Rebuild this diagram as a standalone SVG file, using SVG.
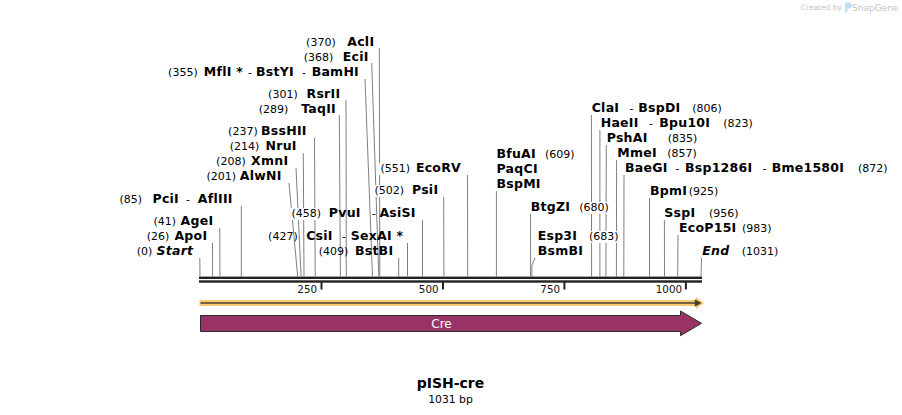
<svg xmlns="http://www.w3.org/2000/svg" width="902" height="415" viewBox="0 0 902 415">
<style>
text{font-family:"DejaVu Sans","Liberation Sans",sans-serif;fill:#000}
.n{font-weight:bold;font-size:12.5px;letter-spacing:0.25px}
.i{font-style:italic}
.num{font-size:11px}
.sep{font-size:11px}
.e{text-anchor:end}
.ln{stroke:#808080;stroke-width:1;fill:none}
.bg{fill:#fff}
.tk{font-size:10.3px;text-anchor:end;fill:#111}
</style>
<rect width="902" height="415" fill="#fff"/>

<!-- credit -->
<g id="credit">
<text x="842" y="10" font-size="7.5" style="fill:#c4c4c4" text-anchor="end">Created by</text>
<path d="M845,2.5 h4 a3,3 0 0 1 0,6 h-1.5 v4 h-2.5 Z" fill="#bfe0f5"/>
<text x="852" y="10.5" font-size="9" style="fill:#c4c4c4">SnapGene</text>
</g>

<!-- connectors -->
<g id="connectors">
<path class="ln" d="M379.3,48 L379.8,276.5"/>
<path class="ln" d="M371.7,63 L378.8,276.5"/>
<path class="ln" d="M365,79 L372.5,276.5"/>
<path class="ln" d="M346,100 L346.3,276.5"/>
<path class="ln" d="M339.3,115 L340.4,276.5"/>
<path class="ln" d="M314.5,138 L315.2,276.5"/>
<path class="ln" d="M303.3,153 L304,276.5"/>
<path class="ln" d="M296,168 L301.1,276.5"/>
<path class="ln" d="M289,183 L297.7,276.5"/>
<path class="ln" d="M241.3,206 L241.3,276.5"/>
<path class="ln" d="M219.8,228 L219.9,276.5"/>
<path class="ln" d="M212.5,243 L212.6,276.5"/>
<path class="ln" d="M199.8,258 L200,276.5"/>
<path class="ln" d="M398.7,258 L398.7,276.5"/>
<path class="ln" d="M407.5,243 L407.5,276.5"/>
<path class="ln" d="M422.5,220 L422.5,276.5"/>
<path class="ln" d="M443.7,197 L443.9,276.5"/>
<path class="ln" d="M467.5,175 L467.7,276.5"/>
<path class="ln" d="M496.4,191 L496.4,276.5"/>
<path class="ln" d="M530.6,214 L530.6,276.5"/>
<path class="ln" d="M535,258 L531.9,265.5 L531.9,276.5"/>
<path class="ln" d="M591.4,115 L591.6,276.5"/>
<path class="ln" d="M599.9,130 L599.9,276.5"/>
<path class="ln" d="M606.3,145 L605.9,276.5"/>
<path class="ln" d="M616.6,160 L616.4,276.5"/>
<path class="ln" d="M624,175 L623.8,276.5"/>
<path class="ln" d="M649.5,198 L649.5,276.5"/>
<path class="ln" d="M664.4,220 L664.5,276.5"/>
<path class="ln" d="M678,235 L677.7,276.5"/>
<path class="ln" d="M701.5,258 L701,276.5"/>
</g>

<!-- left-side enzymes -->
<g id="AclI"><text class="num e" x="335.7" y="46">(370)</text><text class="n e" x="374.3" y="46">AclI</text></g>
<g id="EciI"><text class="num e" x="333.3" y="61">(368)</text><text class="n e" x="368.7" y="61">EciI</text></g>
<g id="BamHI"><text class="num e" x="197.7" y="76">(355)</text><text class="n e" x="243" y="76">MflI *</text><text class="sep e" x="252" y="76">-</text><text class="n e" x="294" y="76">BstYI</text><text class="sep e" x="306" y="76">-</text><text class="n e" x="359" y="76">BamHI</text></g>
<g id="RsrII"><text class="num e" x="297.7" y="98">(301)</text><text class="n e" x="340.3" y="98">RsrII</text></g>
<g id="TaqII"><text class="num e" x="288.3" y="113">(289)</text><text class="n e" x="336" y="113">TaqII</text></g>
<g id="BssHII"><text class="num e" x="257.7" y="135">(237)</text><text class="n e" x="306.7" y="135">BssHII</text></g>
<g id="NruI"><text class="num e" x="259.3" y="150">(214)</text><text class="n e" x="296.7" y="150">NruI</text></g>
<g id="XmnI"><text class="num e" x="245.7" y="165">(208)</text><text class="n e" x="288.3" y="165">XmnI</text></g>
<g id="AlwNI"><text class="num e" x="236" y="180">(201)</text><text class="n e" x="281.7" y="180">AlwNI</text></g>
<g id="PciI"><text class="num e" x="142" y="203">(85)</text><text class="n e" x="179" y="203">PciI</text><text class="sep e" x="190" y="203">-</text><text class="n e" x="232.7" y="203">AflIII</text></g>
<g id="AgeI"><text class="num e" x="176" y="225">(41)</text><text class="n e" x="213.3" y="225">AgeI</text></g>
<g id="ApoI"><text class="num e" x="169.3" y="240">(26)</text><text class="n e" x="207.3" y="240">ApoI</text></g>
<g id="Start"><text class="num e" x="152.3" y="255">(0)</text><text class="n i e" x="193.3" y="255">Start</text></g>

<!-- middle enzymes -->
<g id="EcoRV"><rect class="bg" x="377" y="163" width="33" height="12"/><text class="num e" x="410" y="172">(551)</text><text class="n e" x="461" y="172">EcoRV</text></g>
<g id="PsiI"><rect class="bg" x="373" y="185" width="32" height="12"/><text class="num e" x="404" y="194">(502)</text><text class="n e" x="438.3" y="194">PsiI</text></g>
<g id="PvuI"><rect class="bg" x="290" y="208" width="32" height="12"/><text class="num e" x="321" y="217">(458)</text><text class="n e" x="360.7" y="217">PvuI</text><text class="sep e" x="376" y="217">-</text><text class="n e" x="415.7" y="217">AsiSI</text></g>
<g id="CsiI"><text class="num e" x="297.7" y="240">(427)</text><text class="n e" x="332.7" y="240">CsiI</text><text class="sep e" x="346" y="240">-</text><text class="n e" x="403.3" y="240">SexAI *</text></g>
<g id="BstBI"><text class="num e" x="348.3" y="255">(409)</text><text class="n e" x="393.3" y="255">BstBI</text></g>

<!-- right-side enzymes -->
<g id="BfuAI"><text class="n" x="496.5" y="158">BfuAI</text><text class="num" x="545" y="158">(609)</text><text class="n" x="496.5" y="173">PaqCI</text><text class="n" x="496.5" y="188">BspMI</text></g>
<g id="BtgZI"><text class="n" x="530.7" y="211">BtgZI</text><rect class="bg" x="578" y="202" width="32" height="12"/><text class="num" x="579.3" y="211">(680)</text></g>
<g id="Esp3I"><text class="n" x="537.7" y="240">Esp3I</text><rect class="bg" x="588" y="231" width="32" height="12"/><text class="num" x="589" y="240">(683)</text><text class="n" x="537.7" y="255">BsmBI</text></g>
<g id="ClaI"><text class="n" x="591.7" y="112">ClaI</text><text class="sep" x="629.5" y="112">-</text><text class="n" x="638.3" y="112">BspDI</text><text class="num" x="692.3" y="112">(806)</text></g>
<g id="HaeII"><text class="n" x="600.7" y="127">HaeII</text><text class="sep" x="649" y="127">-</text><text class="n" x="659.3" y="127">Bpu10I</text><text class="num" x="723.3" y="127">(823)</text></g>
<g id="PshAI"><text class="n" x="606.7" y="142">PshAI</text><text class="num" x="667.7" y="142">(835)</text></g>
<g id="MmeI"><text class="n" x="617.3" y="157">MmeI</text><text class="num" x="667.3" y="157">(857)</text></g>
<g id="BaeGI"><text class="n" x="625" y="172">BaeGI</text><text class="sep" x="675.5" y="172">-</text><text class="n" x="685" y="172">Bsp1286I</text><text class="sep" x="762.5" y="172">-</text><text class="n" x="771.7" y="172">Bme1580I</text><text class="num" x="858" y="172">(872)</text></g>
<g id="BpmI"><text class="n" x="650" y="195">BpmI</text><text class="num" x="688.7" y="195">(925)</text></g>
<g id="SspI"><text class="n" x="664.3" y="217">SspI</text><text class="num" x="709" y="217">(956)</text></g>
<g id="EcoP15I"><text class="n" x="679" y="232">EcoP15I</text><text class="num" x="742" y="232">(983)</text></g>
<g id="End"><text class="n i" x="702.3" y="255">End</text><text class="num" x="741.7" y="255">(1031)</text></g>

<!-- ruler -->
<g id="ruler">
<rect x="199" y="276.6" width="503" height="2.4" fill="#222"/>
<rect x="199" y="280.3" width="503" height="2.4" fill="#222"/>
<rect x="320.5" y="282" width="2" height="7.5" fill="#222"/>
<rect x="442" y="282" width="2" height="7.5" fill="#222"/>
<rect x="563.4" y="282" width="2" height="7.5" fill="#222"/>
<rect x="684.9" y="282" width="2" height="7.5" fill="#222"/>
<text class="tk" x="317" y="292.5">250</text>
<text class="tk" x="438.5" y="292.5">500</text>
<text class="tk" x="560" y="292.5">750</text>
<text class="tk" x="682" y="292.5">1000</text>
</g>

<!-- ORF line -->
<g id="orf">
<path d="M199.5,303 H697" stroke="#fbc96f" stroke-width="6" fill="none"/>
<path d="M696,297 L704,303 L696,309 Z" fill="#fbc96f"/>
<path d="M200.5,303 H696" stroke="#4a3f30" stroke-width="1.6" fill="none"/>
<path d="M694.8,299.3 L701.6,303 L694.8,306.7 Z" fill="#4a3f30"/>
</g>

<!-- Cre feature -->
<g id="Cre">
<path d="M200.5,315.5 H680.5 V311 L701.5,323.3 L680.5,335.7 V331.5 H200.5 Z" fill="#993366" stroke="#2a2a2a" stroke-width="1"/>
<text x="441.5" y="327.5" font-size="12" text-anchor="middle" style="fill:#fff">Cre</text>
</g>

<!-- title -->
<g id="title">
<text x="450.5" y="388" font-size="14" font-weight="bold" text-anchor="middle">pISH-cre</text>
<text x="450.5" y="402.5" font-size="10.8" text-anchor="middle">1031 bp</text>
</g>
</svg>
